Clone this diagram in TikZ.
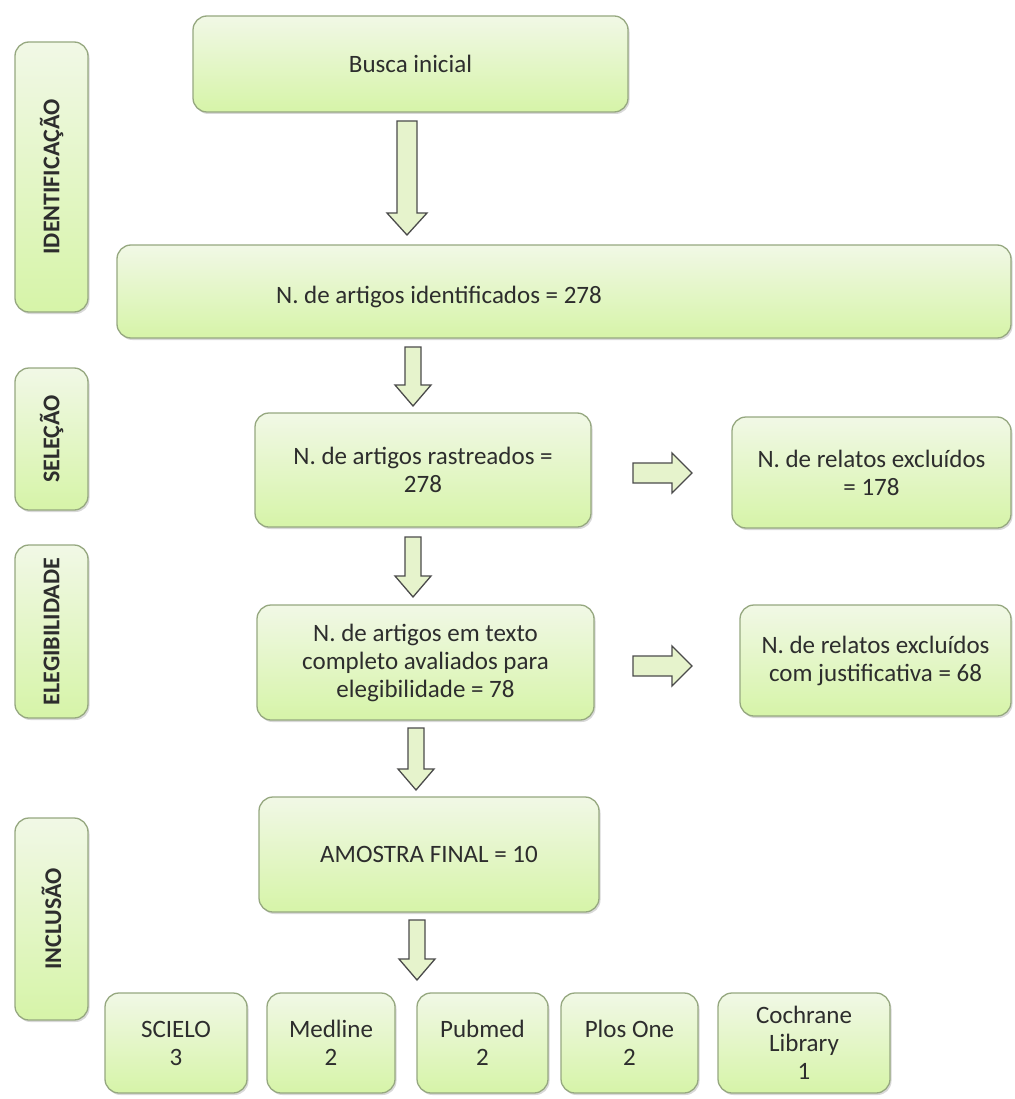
\documentclass[tikz,border=0pt]{standalone}
\usepackage{fontspec}
\setmainfont{Carlito}
\usetikzlibrary{shadows}
\definecolor{boxtop}{RGB}{241,248,230}
\definecolor{boxbot}{RGB}{214,244,168}
\definecolor{boxline}{RGB}{150,168,128}
\definecolor{arrfill}{RGB}{230,243,204}
\definecolor{arrline}{RGB}{75,75,75}
\definecolor{txt}{RGB}{45,45,45}
\tikzset{
  box/.style={draw=boxline, line width=1.3pt, rounded corners=14pt,
    top color=boxtop, bottom color=boxbot,
    drop shadow={shadow xshift=1.5pt, shadow yshift=-2pt, opacity=0.25, fill=black!60},
    align=center, text=txt, font=\fontsize{25}{28}\selectfont, inner sep=0pt},
  sidebox/.style={box, rotate=90, font=\bfseries\fontsize{24}{26}\selectfont},
  blockarrow/.style={fill=arrfill, draw=arrline, line width=1.3pt, line join=miter},
  pics/downarrow/.style n args={4}{code={
    \filldraw[blockarrow] (-#2,0) -- (#2,0) -- (#2,{#1-#4}) -- (#3,{#1-#4}) -- (0,#1)
      -- (-#3,{#1-#4}) -- (-#2,{#1-#4}) -- cycle;}},
  pics/rightarrow/.style n args={4}{code={
    \filldraw[blockarrow] (0,-#2) -- ({#1-#4},-#2) -- ({#1-#4},-#3) -- (#1,0)
      -- ({#1-#4},#3) -- ({#1-#4},#2) -- (0,#2) -- cycle;}}
}
\begin{document}
\begin{tikzpicture}[x=1pt,y=-1pt]
\path[use as bounding box, fill=white] (0,0) rectangle (1014,1099);

% side stage labels
\node[sidebox, minimum width=270pt, minimum height=73pt] (sid) at (51.5,177) {IDENTIFICAÇÃO};
\node[sidebox, minimum width=142pt, minimum height=73pt] (ssel) at (51.5,439) {SELEÇÃO};
\node[sidebox, minimum width=173pt, minimum height=73pt] (sele) at (51.5,631.5) {ELEGIBILIDADE};
\node[sidebox, minimum width=202pt, minimum height=73pt] (sinc) at (51.5,919) {INCLUSÃO};

% main boxes
\node[box, minimum width=435pt, minimum height=96pt] (busca) at (410.5,64) {Busca inicial};
\node[box, minimum width=894pt, minimum height=93pt,
  label={[font=\fontsize{25}{28}\selectfont, text=txt, xshift=-125pt, yshift=-5pt]center:N. de artigos identificados = 278}]
  (ident) at (564,291.5) {};
\node[box, minimum width=336pt, minimum height=114pt] (rast) at (423,470) {N. de artigos rastreados =\\278};
\node[box, minimum width=279pt, minimum height=111pt] (excl) at (871.5,472.5) {N. de relatos excluídos\\= 178};
\node[box, minimum width=271pt, minimum height=111pt] (just) at (875.5,660.5) {N. de relatos excluídos\\com justificativa = 68};
\node[box, minimum width=337pt, minimum height=115pt] (eleg) at (425.5,662.5) {N. de artigos em texto\\completo avaliados para\\elegibilidade = 78};
\node[box, minimum width=340pt, minimum height=115pt] (amostra) at (429,854.5) {AMOSTRA FINAL = 10};

% database boxes
\node[box, minimum width=142pt, minimum height=100pt] (scielo) at (176,1043) {SCIELO\\3};
\node[box, minimum width=128pt, minimum height=100pt] (medline) at (331,1043) {Medline\\2};
\node[box, minimum width=131pt, minimum height=100pt] (pubmed) at (482.5,1043) {Pubmed\\2};
\node[box, minimum width=137pt, minimum height=100pt] (plos) at (629.5,1043) {Plos One\\2};
\node[box, minimum width=172pt, minimum height=100pt] (coch) at (804,1043) {Cochrane\\Library\\1};

% block arrows
\coordinate (a1) at (407,121);
\coordinate (a2) at (413,347);
\coordinate (a3) at (413,537);
\coordinate (a4) at (416,728);
\coordinate (a5) at (417,920);
\coordinate (r1) at (633,473);
\coordinate (r2) at (633,666);
\pic at (a1) {downarrow={114}{10}{20}{22}};
\pic at (a2) {downarrow={59}{8}{18}{21}};
\pic at (a3) {downarrow={60}{8}{18}{21}};
\pic at (a4) {downarrow={62}{8}{18}{21}};
\pic at (a5) {downarrow={60}{8}{18}{21}};
\pic at (r1) {rightarrow={59}{10}{20}{20}};
\pic at (r2) {rightarrow={59}{10}{20}{20}};
\end{tikzpicture}
\end{document}
